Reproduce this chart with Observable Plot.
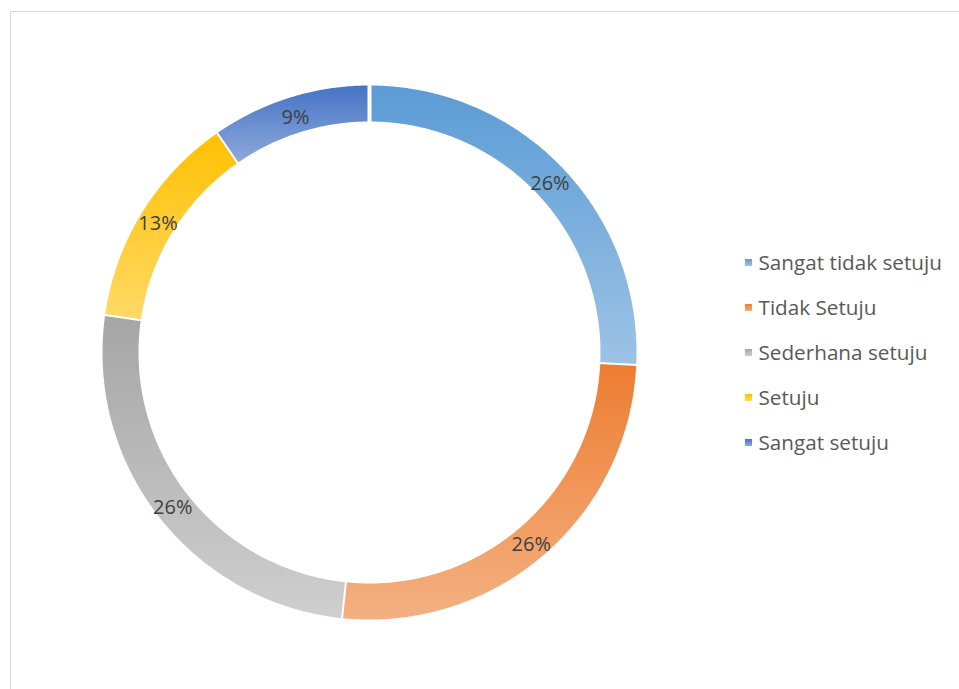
<!DOCTYPE html>
<html>
<head>
<meta charset="utf-8">
<script src="https://cdn.jsdelivr.net/npm/d3@7"></script>
<script src="https://cdn.jsdelivr.net/npm/@observablehq/plot@0.6"></script>
<style>
  html, body { margin: 0; padding: 0; background: #fff; }
  #frame { position: absolute; left: 10px; top: 11px; width: 1000px; height: 800px; border: 1px solid #d9d9d9; box-sizing: border-box; }
  #chart { position: absolute; left: 0; top: 0; }
</style>
</head>
<body>
<div id="frame"></div>
<div id="chart"></div>
<script>
const categories = ["Sangat tidak setuju", "Tidak Setuju", "Sederhana setuju", "Setuju", "Sangat setuju"];
// slice shares
const values = [25.8, 25.9, 25.6, 13.1, 9.6];
// data labels as printed on the chart
const labels = ["26%", "26%", "26%", "13%", "9%"];
const darkColors = ["#5B9BD5", "#ED7D31", "#A5A5A5", "#FFC000", "#4472C4"];
const lightColors = ["#9DC3E6", "#F4B183", "#CFCFCF", "#FFD966", "#8FAADC"];

const W = 959, H = 689;
const cx = 369, cy = 352;
const rOuter = 269, rInner = 229, rLabel = 249;

const pie = d3.pie().sort(null).value(d => d)(values);

// ring polygons
const ringPts = [];
pie.forEach((p, i) => {
  const n = Math.max(8, Math.ceil((p.endAngle - p.startAngle) / (Math.PI / 360)));
  for (let k = 0; k <= n; k++) {
    const a = p.startAngle + (p.endAngle - p.startAngle) * k / n;
    ringPts.push({cat: categories[i], x: rOuter * Math.sin(a), y: -rOuter * Math.cos(a)});
  }
  for (let k = n; k >= 0; k--) {
    const a = p.startAngle + (p.endAngle - p.startAngle) * k / n;
    ringPts.push({cat: categories[i], x: rInner * Math.sin(a), y: -rInner * Math.cos(a)});
  }
});

const labelPts = pie.map((p, i) => {
  const a = (p.startAngle + p.endAngle) / 2;
  return {label: labels[i], x: rLabel * Math.sin(a), y: -rLabel * Math.cos(a)};
});

// legend in same coordinate system
const legX = 748 - cx, legY0 = 262 - cy, legDy = 45;
const legendData = categories.map((c, i) => ({cat: c, i, x: legX, y: legY0 + i * legDy}));

const defs = () => {
  const d = d3.create("svg:defs");
  categories.forEach((c, i) => {
    const g = d.append("linearGradient").attr("id", "g" + i).attr("x1", 0).attr("y1", 0).attr("x2", 0).attr("y2", 1);
    g.append("stop").attr("offset", "0%").attr("stop-color", darkColors[i]);
    g.append("stop").attr("offset", "100%").attr("stop-color", lightColors[i]);
  });
  return d.node();
};

const fillMap = Object.fromEntries(categories.map((c, i) => [c, `url(#g${i})`]));

const chart = Plot.plot({
  width: W,
  height: H,
  margin: 0,
  x: {domain: [-cx, W - cx], range: [0, W], axis: null},
  y: {domain: [-cy, H - cy], range: [0, H], axis: null},
  style: {background: "transparent"},
  marks: [
    defs,
    ...categories.map((c, i) =>
      Plot.line(ringPts.filter(d => d.cat === c), {
        x: "x", y: "y", fill: fillMap[c], stroke: "white", strokeWidth: 4, strokeLinejoin: "miter", curve: "linear"
      })
    ),
    Plot.text(labelPts, {
      x: "x", y: "y", text: "label", dy: 2.5, fill: "#404040", fontSize: 20,
      fontFamily: "Open Sans", textAnchor: "middle", lineAnchor: "middle"
    }),
    ...legendData.map(d =>
      Plot.dot([d], {x: "x", y: "y", symbol: "square", r: 4, fill: fillMap[d.cat], stroke: null})
    ),
    Plot.text(legendData, {
      x: "x", y: "y", text: "cat", dx: 10, dy: 1, fill: "#595959", fontSize: 20.7,
      fontFamily: "Open Sans", textAnchor: "start", lineAnchor: "middle"
    })
  ]
});
document.getElementById("chart").appendChild(chart);
</script>
</body>
</html>
